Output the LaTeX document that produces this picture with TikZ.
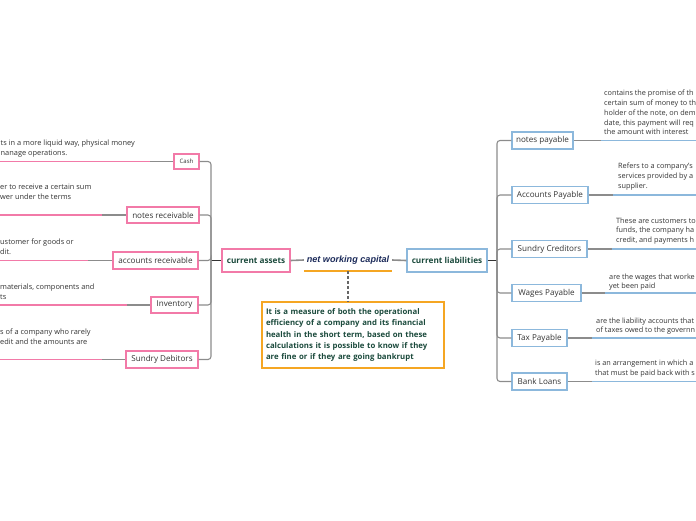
\documentclass[tikz,border=0pt]{standalone}
\usepackage{fontspec}
\setmainfont{Open Sans}
\newfontfamily\nwcfont{Liberation Sans}
\definecolor{pinkc}{HTML}{F27AA8}
\definecolor{bluec}{HTML}{8CB8DC}
\definecolor{orangec}{HTML}{F5A623}
\definecolor{txt}{HTML}{333333}
\definecolor{dgreen}{HTML}{1B4A3C}
\definecolor{navyc}{HTML}{1C2B5A}
\definecolor{connc}{HTML}{8C8C8C}
\definecolor{dlinec}{HTML}{333333}
\tikzset{
  pbox/.style={draw=pinkc, line width=1.3pt, fill=white, inner sep=0pt, text=txt, font=\fontsize{8.1}{9}\selectfont},
  bbox/.style={draw=bluec, line width=1.3pt, fill=white, inner sep=0pt, text=txt, font=\fontsize{8.1}{9}\selectfont},
  conn/.style={draw=connc, line width=1.1pt, rounded corners=3pt},
  cline/.style={draw=connc, line width=1.6pt},
  dline/.style={draw=dlinec, line width=1.6pt},
  pline/.style={draw=pinkc, line width=1.5pt},
  bline/.style={draw=bluec, line width=1.5pt},
  body/.style={text=txt, align=left, inner sep=0pt, anchor=north west},
}
\begin{document}
\begin{tikzpicture}[x=1pt,y=-1pt]
\useasboundingbox (0,0) rectangle (696,520);
\clip (0,0) rectangle (696,520);

% ---------- centre ----------
\node[pbox, minimum width=68pt, minimum height=23pt, text=dgreen, font=\fontsize{8.2}{9}\selectfont\bfseries] (ca) at (256,260.5) {current assets};
\node[bbox, minimum width=80pt, minimum height=23pt, text=dgreen, font=\fontsize{8.2}{9}\selectfont\bfseries] (cl) at (447,260.5) {current liabilities};
\node[minimum width=88pt, minimum height=22pt, inner sep=0pt, text=navyc, font=\nwcfont\fontsize{9.1}{10}\selectfont\bfseries\itshape] (nwc) at (348,260) {net working capital};
\draw[draw=orangec, line width=1.5pt] (nwc.south west) -- (nwc.south east);
\node[draw=orangec, line width=1.3pt, minimum width=182pt, minimum height=66pt, inner xsep=4pt, inner ysep=0pt, text width=174pt, align=left, text=dgreen, font=\fontsize{7.8}{11.3}\selectfont\bfseries] (desc) at (353,335) {It is a measure of both the operational\\efficiency of a company and its financial\\health in the short term, based on these\\calculations it is possible to know if they\\are fine or if they are going bankrupt};
\draw[draw=gray!80!black, line width=1.3pt, dash pattern=on 3pt off 2pt] (nwc.south) -- (nwc.south |- desc.north);

\coordinate (jl) at (211,260.5);
\coordinate (jr) at (497,260.5);
\draw[dline] (jl) -- (ca.west);
\draw[cline] (ca.east) -- (nwc.west);
\draw[cline] (nwc.east) -- (cl.west);
\draw[dline] (cl.east) -- (jr);

% ---------- left children ----------
\node[pbox, minimum width=25pt, minimum height=15pt, font=\fontsize{6}{7}\selectfont] (cash) at (186.5,161.5) {Cash};
\node[pbox, minimum width=72pt, minimum height=16pt] (nr) at (163,215) {notes receivable};
\node[pbox, minimum width=85pt, minimum height=17pt] (ar) at (155.5,260.5) {accounts receivable};
\node[pbox, minimum width=47pt, minimum height=16pt] (inv) at (174.5,305) {Inventory};
\node[pbox, minimum width=72pt, minimum height=17pt] (sd) at (162,359.5) {Sundry Debitors};

\foreach \n in {cash,nr,ar,inv,sd} \draw[conn] (jl) |- (\n.east);

\coordinate (cash-a) at (-2,161.5);  \coordinate (cash-b) at (150,161.5);
\coordinate (nr-a) at (-2,215);      \coordinate (nr-b) at (102,215);
\coordinate (ar-a) at (-2,260.5);    \coordinate (ar-b) at (88,260.5);
\coordinate (inv-a) at (-2,305);     \coordinate (inv-b) at (127,305);
\coordinate (sd-a) at (-2,359.5);    \coordinate (sd-b) at (102,359.5);
\foreach \n in {cash,nr,ar,inv,sd} {
  \draw[pline] (\n-a) -- (\n-b);
  \draw[conn] (\n-b) -- (\n.west);
}

\node[body, font=\fontsize{7.4}{9.5}\selectfont] (cash-t) at (0.5,140) {ts in a more liquid way, physical money\\nanage operations.};
\node[body, font=\fontsize{7.4}{10}\selectfont] (nr-t) at (0,183.6) {er to receive a certain sum\\wer under the terms};
\node[body, font=\fontsize{7.4}{10.5}\selectfont] (ar-t) at (0,238.6) {ustomer for goods or\\dit.};
\node[body, font=\fontsize{7.4}{10}\selectfont] (inv-t) at (0,283.6) {materials, components and\\ts};
\node[body, font=\fontsize{7.4}{10}\selectfont] (sd-t) at (0,328.6) {s of a company who rarely\\edit and the amounts are};

% ---------- right children ----------
\node[bbox, minimum width=61pt, minimum height=17pt] (np) at (542.5,140.5) {notes payable};
\node[bbox, minimum width=76pt, minimum height=17pt] (ap) at (550,195) {Accounts Payable};
\node[bbox, minimum width=75pt, minimum height=17pt] (sc) at (549.5,249) {Sundry Creditors};
\node[bbox, minimum width=69pt, minimum height=17pt] (wp) at (546.5,293) {Wages Payable};
\node[bbox, minimum width=55pt, minimum height=17pt] (tp) at (539.5,338) {Tax Payable};
\node[bbox, minimum width=55pt, minimum height=17pt] (bl) at (539.5,381.5) {Bank Loans};

\foreach \n in {np,ap,sc,wp,tp,bl} \draw[conn] (jr) |- (\n.west);

\coordinate (np-a) at (601,140.5);  \coordinate (np-b) at (700,140.5);
\coordinate (ap-a) at (613,195);    \coordinate (ap-b) at (700,195);
\coordinate (sc-a) at (612,249);    \coordinate (sc-b) at (700,249);
\coordinate (wp-a) at (605,293);    \coordinate (wp-b) at (700,293);
\coordinate (tp-a) at (592,338);    \coordinate (tp-b) at (700,338);
\coordinate (bl-a) at (592,381.5);  \coordinate (bl-b) at (700,381.5);
\foreach \n in {np,ap,sc,wp,tp,bl} {
  \draw[conn] (\n.east) -- (\n-a);
  \draw[bline] (\n-a) -- (\n-b);
}

\node[body, font=\fontsize{7.3}{9.8}\selectfont] (np-t) at (604,89.9) {contains the promise of th\\certain sum of money to th\\holder of the note, on dem\\date, this payment will req\\the amount with interest};
\node[body, font=\fontsize{7.3}{10}\selectfont] (ap-t) at (618,162.9) {Refers to a company's\\services provided by a\\supplier.};
\node[body, font=\fontsize{7.3}{9.2}\selectfont] (sc-t) at (616,217.9) {These are customers to\\funds, the company ha\\credit, and payments h};
\node[body, font=\fontsize{7.3}{9.2}\selectfont] (wp-t) at (609,273.9) {are the wages that worke\\yet been paid};
\node[body, font=\fontsize{7.3}{9.2}\selectfont] (tp-t) at (596,317.9) {are the liability accounts that\\of taxes owed to the governn};
\node[body, font=\fontsize{7.3}{10}\selectfont] (bl-t) at (595,359.9) {is an arrangement in which a\\that must be paid back with s};
\end{tikzpicture}
\end{document}
